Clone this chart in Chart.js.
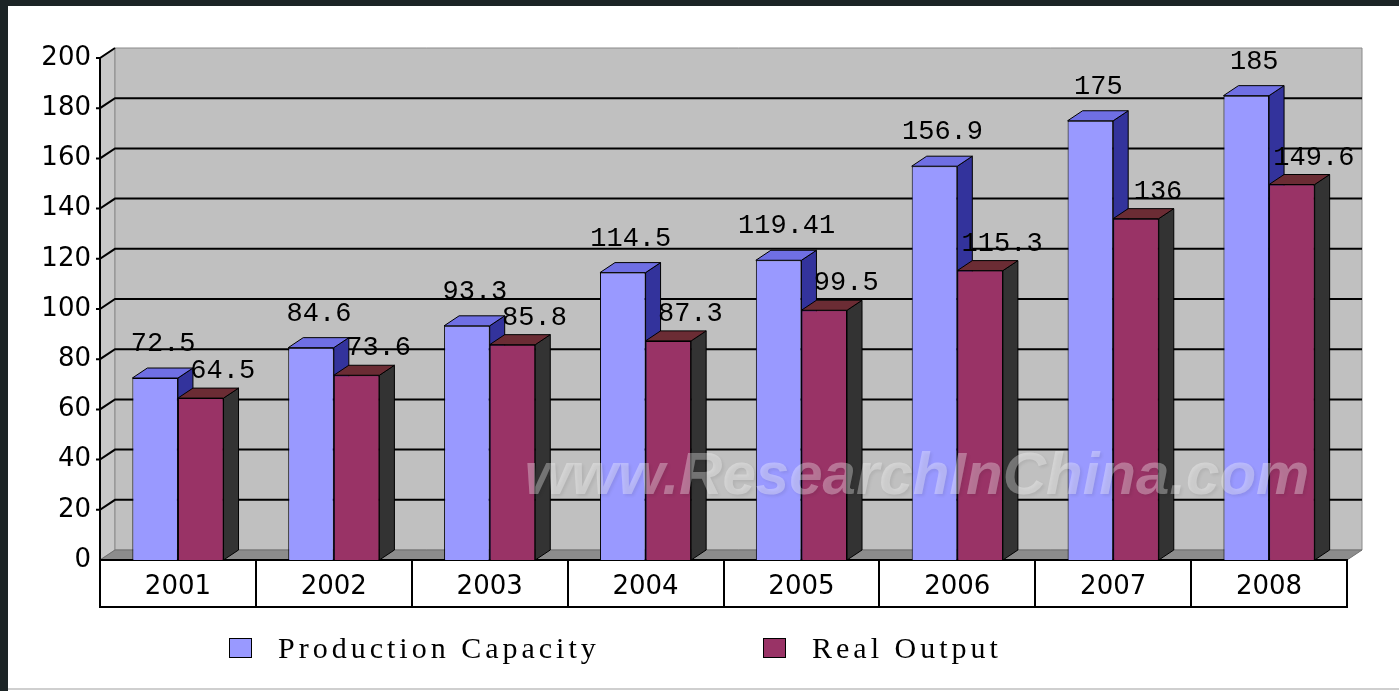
<!DOCTYPE html>
<html>
<head>
<meta charset="utf-8">
<title>Production Capacity vs Real Output</title>
<script src="https://cdn.jsdelivr.net/npm/chart.js@4.4.1/dist/chart.umd.min.js"></script>
<style>
   body { margin: 0; background: #fff; }
   #wrap { position: relative; width: 1399px; height: 691px; overflow: hidden; background: #fff; }
   #chart { position: absolute; left: 0; top: 0; }
   #frame-top { position: absolute; left: 0; top: 0; width: 1399px; height: 6px; background: #1c2426; }
   #frame-left { position: absolute; left: 0; top: 0; width: 8px; height: 691px; background: #1c2426; }
   #frame-bottom { position: absolute; left: 8px; top: 688px; width: 1391px; height: 2px; background: #cfcfcf; }
   .legend-item { position: absolute; top: 631px; display: flex; align-items: center; font-family: "Liberation Serif", serif; font-size: 30px; letter-spacing: 4px; color: #000; white-space: nowrap; }
   .legend-box { width: 21px; height: 18px; border: 1px solid #000; margin-right: 26px; }
</style>
</head>
<body>
<div id="wrap">
   <canvas id="chart" width="1399" height="691"></canvas>
   <div id="legend"></div>
   <div id="frame-top"></div>
   <div id="frame-left"></div>
   <div id="frame-bottom"></div>
</div>
<script>
const years = ["2001", "2002", "2003", "2004", "2005", "2006", "2007", "2008"];
const capacity = [72.5, 84.6, 93.3, 114.5, 119.41, 156.9, 175, 185];
const output = [64.5, 73.6, 85.8, 87.3, 99.5, 115.3, 136, 149.6];
const yTicks = [0, 20, 40, 60, 80, 100, 120, 140, 160, 180, 200];
const seriesNames = ["Production Capacity", "Real Output"];

// depth of the fake 3D look
const DX = 15, DY = -10;
const faceColors = [
   { side: "#33339c", top: "#6f6fe4", labelShift: 8, rise: 34 },
   { side: "#333333", top: "#6b2c34", labelShift: 22, rise: 27 }
];

function poly(ctx, pts, fill, stroke, width) {
   ctx.beginPath();
   ctx.moveTo(pts[0][0], pts[0][1]);
   for (let i = 1; i < pts.length; i++) ctx.lineTo(pts[i][0], pts[i][1]);
   ctx.closePath();
   ctx.fillStyle = fill;
   ctx.fill();
   if (stroke) {
      ctx.strokeStyle = stroke;
      ctx.lineWidth = width || 1;
      ctx.stroke();
   }
}

function barFaces(ctx, bar, faces) {
   const p = bar.getProps(["x", "y", "base", "width"], true);
   const l = p.x - p.width / 2, r = p.x + p.width / 2;
   poly(ctx, [[r, p.y], [r + DX, p.y + DY], [r + DX, p.base + DY], [r, p.base]], faces.side, "#000");
   poly(ctx, [[l, p.y], [l + DX, p.y + DY], [r + DX, p.y + DY], [r, p.y]], faces.top, "#000");
}

const walls3d = {
   id: "walls3d",
   beforeDatasetsDraw(chart) {
      const ctx = chart.ctx, a = chart.chartArea, ys = chart.scales.y, xs = chart.scales.x;
      ctx.save();
      // side wall, back wall, floor
      poly(ctx, [[a.left, a.top], [a.left + DX, a.top + DY], [a.left + DX, a.bottom + DY], [a.left, a.bottom]], "#c8c8c8", "#8a8a8a");
      poly(ctx, [[a.left + DX, a.top + DY], [a.right + DX, a.top + DY], [a.right + DX, a.bottom + DY], [a.left + DX, a.bottom + DY]], "#c0c0c0", "#8a8a8a");
      poly(ctx, [[a.left, a.bottom], [a.left + DX, a.bottom + DY], [a.right + DX, a.bottom + DY], [a.right, a.bottom]], "#8c8c8c", "#707070");

      // gridlines on the walls
      ctx.strokeStyle = "#000";
      ctx.lineWidth = 2;
      yTicks.forEach(v => {
         if (v === 0) return;
         const py = ys.getPixelForValue(v);
         ctx.beginPath();
         ctx.moveTo(a.left - 4, py);
         ctx.lineTo(a.left, py);
         ctx.lineTo(a.left + DX, py + DY);
         if (v !== yTicks[yTicks.length - 1]) ctx.lineTo(a.right + DX, py + DY);
         ctx.stroke();
      });

      // value axis line
      ctx.beginPath();
      ctx.moveTo(a.left, a.top);
      ctx.lineTo(a.left, a.bottom);
      ctx.stroke();

      // category table under the plot
      const half = (xs.getPixelForValue(1) - xs.getPixelForValue(0)) / 2;
      ctx.strokeRect(a.left, a.bottom, a.right - a.left, 47);
      for (let i = 1; i < years.length; i++) {
         const px = Math.round(xs.getPixelForValue(i) - half);
         ctx.beginPath();
         ctx.moveTo(px, a.bottom);
         ctx.lineTo(px, a.bottom + 47);
         ctx.stroke();
      }
      ctx.restore();
   },
   afterDatasetsDraw(chart) {
      const ctx = chart.ctx;
      const blue = chart.getDatasetMeta(0), red = chart.getDatasetMeta(1);
      ctx.save();
      // blue faces first, then the red bar again on top of them
      blue.data.forEach(bar => barFaces(ctx, bar, faceColors[0]));
      red.data.forEach(bar => {
         bar.draw(ctx);
         barFaces(ctx, bar, faceColors[1]);
      });

      // watermark
      const mark = "www.ResearchInChina.com";
      ctx.font = "italic bold 48px 'Liberation Sans'";
      const size = 48 * 785 / ctx.measureText(mark).width;
      ctx.font = "italic bold " + size + "px 'Liberation Sans'";
      ctx.textAlign = "center";
      ctx.textBaseline = "middle";
      ctx.shadowColor = "rgba(0,0,0,0.22)";
      ctx.shadowBlur = 3;
      ctx.shadowOffsetX = 2;
      ctx.shadowOffsetY = 2;
      ctx.fillStyle = "rgba(255,255,255,0.33)";
      ctx.fillText(mark, 917, 477);
      ctx.restore();

      // value labels
      ctx.save();
      ctx.font = "27px 'Liberation Mono'";
      ctx.fillStyle = "#000";
      ctx.textAlign = "center";
      ctx.textBaseline = "middle";
      [blue, red].forEach((meta, di) => {
         const f = faceColors[di];
         meta.data.forEach((bar, i) => {
            const v = chart.data.datasets[di].data[i];
            ctx.fillText(String(v), bar.x + f.labelShift, bar.y - f.rise);
         });
      });
      ctx.restore();
   }
};

const chart = new Chart(document.getElementById("chart"), {
   type: "bar",
   data: {
      labels: years,
      datasets: [
         {
            label: seriesNames[0],
            data: capacity,
            backgroundColor: "#9999ff",
            borderColor: "#000",
            borderWidth: 1,
            categoryPercentage: 0.585,
            barPercentage: 1
         },
         {
            label: seriesNames[1],
            data: output,
            backgroundColor: "#993366",
            borderColor: "#000",
            borderWidth: 1,
            categoryPercentage: 0.585,
            barPercentage: 1
         }
      ]
   },
   options: {
      responsive: false,
      animation: false,
      devicePixelRatio: 1,
      layout: { padding: { top: 58, right: 52, bottom: 84, left: 0 } },
      plugins: {
         legend: { display: false },
         tooltip: { enabled: false }
      },
      scales: {
         x: {
            grid: { display: false, drawTicks: false },
            border: { display: false },
            ticks: {
               color: "#000",
               font: { family: "DejaVu Sans", size: 26 },
               padding: 12,
               maxRotation: 0,
               autoSkip: false
            },
            afterFit: s => { s.height = 47; }
         },
         y: {
            min: 0,
            max: 200,
            grid: { display: false, drawTicks: false },
            border: { display: false },
            afterBuildTicks: s => { s.ticks = yTicks.map(v => ({ value: v })); },
            ticks: {
               color: "#000",
               font: { family: "DejaVu Sans", size: 26 },
               padding: 9
            },
            afterFit: s => { s.width = 100; }
         }
      }
   },
   plugins: [walls3d]
});

// legend below the table, built from the datasets
const legendLeft = [229, 763];
const legend = document.getElementById("legend");
chart.data.datasets.forEach((ds, i) => {
   const item = document.createElement("div");
   item.className = "legend-item";
   item.style.left = legendLeft[i] + "px";
   item.innerHTML = `<span class="legend-box" style="background:${ds.backgroundColor}"></span><span>${ds.label}</span>`;
   legend.appendChild(item);
});
</script>
</body>
</html>
